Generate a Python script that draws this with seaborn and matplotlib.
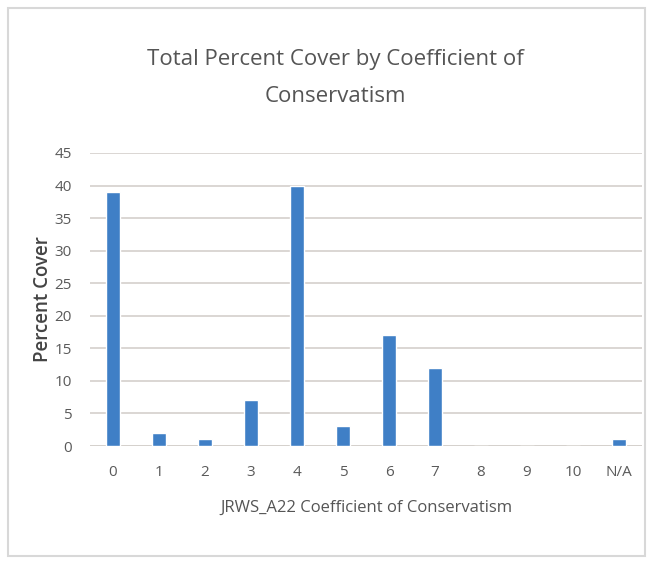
import matplotlib
matplotlib.use("Agg")
import matplotlib.pyplot as plt
import seaborn as sns
import pandas as pd
from matplotlib.patches import Rectangle

categories = ["0", "1", "2", "3", "4", "5", "6", "7", "8", "9", "10", "N/A"]
percent_cover = [39, 2, 1, 7, 40, 3, 17, 12, 0, 0, 0, 1]
y_ticks = [0, 5, 10, 15, 20, 25, 30, 35, 40, 45]

df = pd.DataFrame({"cat": categories, "val": percent_cover})

sns.set_theme(style="white")
plt.rcParams["font.family"] = ["Open Sans", "DejaVu Sans"]

fig = plt.figure(figsize=(6.52, 5.63), dpi=100)
ax = fig.add_axes([90/652, (563-446)/563, 552/652, 293/563])

sns.barplot(data=df, x="cat", y="val", order=categories, color="#3F7FC6",
            saturation=1, width=0.3, ax=ax)

ax.set_ylim(0, 45)
ax.set_xlim(-0.5, 11.5)
ax.set_yticks(y_ticks)
ax.yaxis.grid(True, color="#d4d0cc", linewidth=1.2)
ax.set_axisbelow(True)
for s in ax.spines.values():
    s.set_visible(False)
ax.axhline(0, color="#d4d0cc", linewidth=1.2, zorder=0)
ax.tick_params(axis="both", length=0, labelsize=11, colors="#5a5a5a")
ax.tick_params(axis="x", pad=14)
ax.tick_params(axis="y", pad=13)

ax.set_xlabel("JRWS_A22 Coefficient of Conservatism", fontsize=12, color="#555555", labelpad=14)
ax.set_ylabel("Percent Cover", fontsize=13.5, color="#444444", fontweight="semibold", labelpad=1)

fig.text(0.515, 1 - 78/563, "Total Percent Cover by Coefficient of\nConservatism",
         ha="center", va="center", fontsize=16, color="#555555", linespacing=2.0)

fig.patches.append(Rectangle((8/652, 0.012), 637/652, 1 - 8/563 - 0.012, transform=fig.transFigure,
                             fill=False, edgecolor="#d8d8d8", linewidth=1.5))

fig.savefig("out.png", dpi=100)
